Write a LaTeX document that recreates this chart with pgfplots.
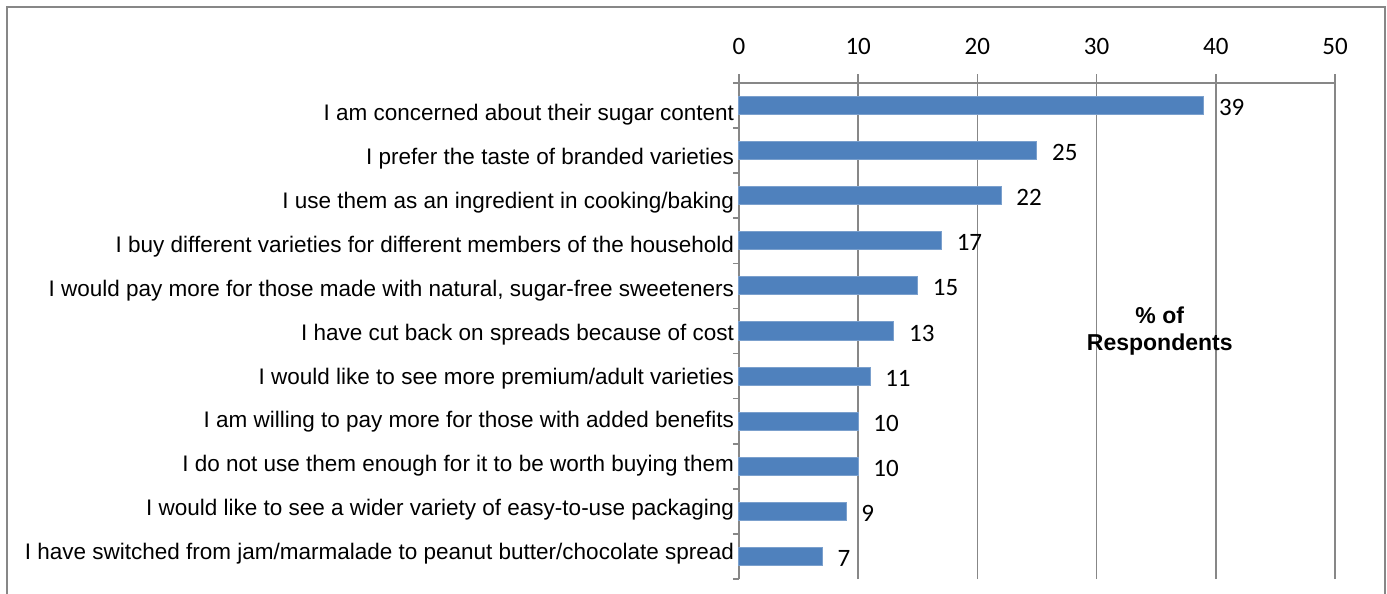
\documentclass[border=0pt]{standalone}
\usepackage{fontspec}
\setmainfont{Liberation Sans}
\newfontfamily\calibri{Carlito}
\usepackage{pgfplots}
\pgfplotsset{compat=1.18}
\definecolor{barcol}{HTML}{4F81BD}
\definecolor{gridcol}{HTML}{878787}
\begin{document}
\begin{tikzpicture}
\useasboundingbox (0,0) rectangle (693.5pt,-297pt);
\draw[gridcol, line width=1pt] (3.5pt,-320pt) -- (3.5pt,-3.5pt) -- (692.5pt,-3.5pt) -- (692.5pt,-320pt);
\begin{axis}[
  at={(369.5pt,-289.5pt)}, anchor=south west,
  scale only axis, width=298pt, height=248pt,
  xbar, bar width=0.4,
  xmin=0, xmax=50, ymin=-0.5, ymax=10.5,
  axis x line*=top, axis y line*=left,
  axis line style={-, gridcol, line width=0.8pt},
  xtick={0,10,...,50},
  xmajorgrids=true,
  grid style={gridcol, line width=0.8pt},
  tick align=outside,
  major tick length=4.5pt,
  minor tick length=3pt,
  xtick style={gridcol, line width=0.8pt},
  major y tick style={draw=none},
  minor y tick style={gridcol, line width=0.8pt},
  ytick={0.055,1.03,2.004,2.979,3.953,4.928,5.902,6.877,7.851,8.826,9.80},
  minor ytick={-0.5,0.5,...,10.5},
  yticklabels={
    I have switched from jam/marmalade to peanut butter/chocolate spread,
    I would like to see a wider variety of easy-to-use packaging,
    I do not use them enough for it to be worth buying them,
    I am willing to pay more for those with added benefits,
    I would like to see more premium/adult varieties,
    I have cut back on spreads because of cost,
    {I would pay more for those made with natural, sugar-free sweeteners},
    I buy different varieties for different members of the household,
    I use them as an ingredient in cooking/baking,
    I prefer the taste of branded varieties,
    I am concerned about their sugar content},
  yticklabel style={font=\fontsize{11.25}{13}\selectfont, anchor=east, xshift=5.5pt},
  xticklabel style={font=\calibri\fontsize{12.5}{14}\selectfont, yshift=6pt},
  /pgf/number format/assume math mode=true,
  nodes near coords,
  nodes near coords style={font=\calibri\fontsize{12.5}{14}\selectfont, anchor=west, xshift=4pt, yshift=-1pt, text=black},
  clip=false,
]
\addplot[fill=barcol, draw=barcol!75!white, line width=0.5pt] coordinates {
  (7,0) (9,1) (10,2) (10,3) (11,4) (13,5) (15,6) (17,7) (22,8) (25,9) (39,10)
};
\node[font=\bfseries\fontsize{11.5}{13.5}\selectfont, align=center] at (axis cs:35.3,5) {\% of\\Respondents};
\end{axis}
\end{tikzpicture}
\end{document}
